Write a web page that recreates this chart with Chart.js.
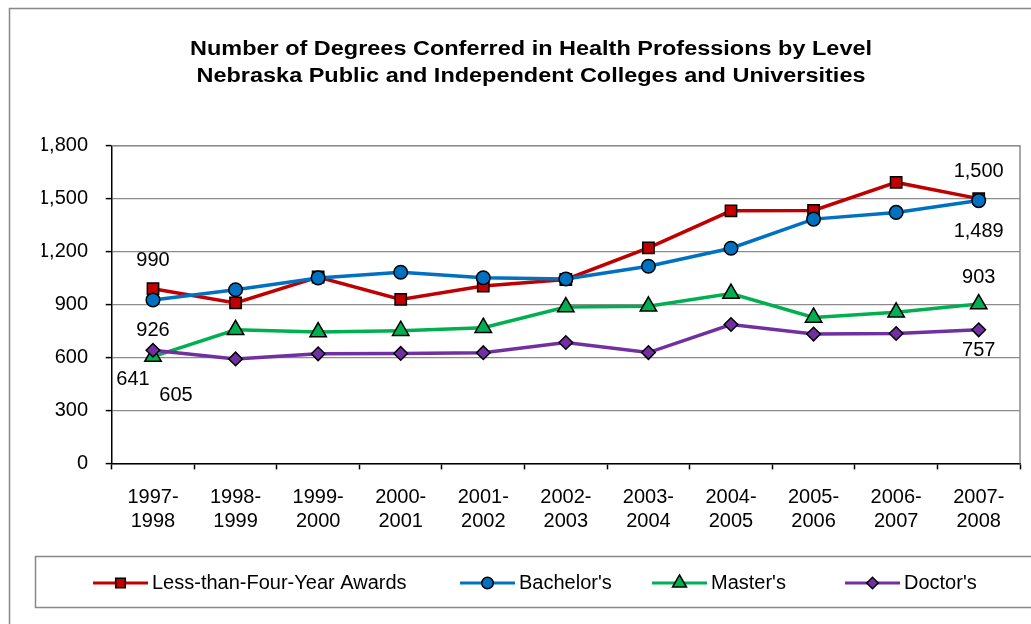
<!DOCTYPE html>
<html>
<head>
<meta charset="utf-8">
<title>Degrees Conferred in Health Professions</title>
<script src="https://cdn.jsdelivr.net/npm/chart.js@4.4.0/dist/chart.umd.min.js"></script>
<style>
    html, body { margin: 0; padding: 0; background: #fff; }
    #wrap { width: 1031px; height: 624px; position: relative; }
</style>
</head>
<body>
<div id="wrap"><canvas id="degreesChart" width="1031" height="624"></canvas></div>
<script>
// Data
var categories = ['1997-1998', '1998-1999', '1999-2000', '2000-2001', '2001-2002', '2002-2003',
                  '2003-2004', '2004-2005', '2005-2006', '2006-2007', '2007-2008'];
var lessThanFourYear = [990, 909, 1056, 929, 1005, 1042, 1221, 1431, 1433, 1592, 1500];
var bachelors = [926, 984, 1051, 1083, 1052, 1045, 1117, 1219, 1384, 1422, 1489];
var masters = [605, 757, 744, 752, 769, 886, 890, 962, 827, 856, 903];
var doctors = [641, 592, 621, 623, 627, 685, 628, 787, 733, 736, 757];
var seriesNames = ['Less-than-Four-Year Awards', "Bachelor's", "Master's", "Doctor's"];
var yTickValues = [0, 300, 600, 900, 1200, 1500, 1800];
var titleLines = ['Number of Degrees Conferred in Health Professions by Level',
                  'Nebraska Public and Independent Colleges and Universities'];

var FONT = '"Liberation Sans", Arial, sans-serif';
var gridGray = '#8c8c8c';

// split "1997-1998" into two lines like the original
var xLabels = categories.map(function (c) {
    var parts = c.split('-');
    return [parts[0] + '-', parts[1]];
});

function fmt(v) {
    return v.toLocaleString('en-US');
}

// label offsets for first and last points of each series
var endLabelOffsets = [
    { first: [0, -28], last: [0, -27] },
    { first: [0, 31], last: [0, 31] },
    { first: [23, 39], last: [0, -27] },
    { first: [-20, 29], last: [0, 21] }
];

// where each legend entry starts
var legendX = [93, 460, 652, 845];

var framePlugin = {
    id: 'frame',
    beforeDraw: function (chart) {
        var ctx = chart.ctx;
        ctx.save();
        ctx.fillStyle = '#fff';
        ctx.fillRect(0, 0, chart.width, chart.height);
        ctx.strokeStyle = '#888';
        ctx.lineWidth = 1.5;
        ctx.strokeRect(9.5, 8.5, chart.width + 20, chart.height + 20);
        ctx.restore();
    },
    afterDraw: function (chart) {
        var ctx = chart.ctx;
        var area = chart.chartArea;
        ctx.save();
        // right and top border of the plot area
        ctx.strokeStyle = gridGray;
        ctx.lineWidth = 1.5;
        ctx.beginPath();
        ctx.moveTo(area.left, area.top);
        ctx.lineTo(area.right, area.top);
        ctx.lineTo(area.right, area.bottom);
        ctx.stroke();

        // title, a bit wide like the original
        ctx.fillStyle = '#000';
        ctx.font = 'bold 20px ' + FONT;
        ctx.textAlign = 'center';
        ctx.textBaseline = 'middle';
        var sx = 682 / ctx.measureText(titleLines[0]).width;
        titleLines.forEach(function (line, i) {
            ctx.save();
            ctx.translate(531, 49 + i * 27);
            ctx.scale(sx, 1);
            ctx.fillText(line, 0, 0);
            ctx.restore();
        });

        // end labels
        ctx.font = '20px ' + FONT;
        chart.data.datasets.forEach(function (ds, i) {
            var pts = chart.getDatasetMeta(i).data;
            var off = endLabelOffsets[i];
            var p0 = pts[0], pn = pts[pts.length - 1];
            ctx.fillText(fmt(ds.data[0]), p0.x + off.first[0], p0.y + off.first[1]);
            ctx.fillText(fmt(ds.data[ds.data.length - 1]), pn.x + off.last[0], pn.y + off.last[1]);
        });

        // legend box
        ctx.strokeStyle = '#888';
        ctx.lineWidth = 1.5;
        ctx.strokeRect(35.5, 556.5, chart.width + 20, 51);
        var ly = 583;
        chart.data.datasets.forEach(function (ds, i) {
            var x = legendX[i];
            ctx.strokeStyle = ds.borderColor;
            ctx.lineWidth = 3;
            ctx.beginPath();
            ctx.moveTo(x, ly);
            ctx.lineTo(x + 55, ly);
            ctx.stroke();
            ctx.fillStyle = ds.pointBackgroundColor;
            ctx.strokeStyle = '#000';
            ctx.lineWidth = 1.5;
            Chart.helpers.drawPoint(ctx, {
                pointStyle: ds.pointStyle,
                radius: ds.pointRadius * 0.85,
                borderWidth: 1.5,
                rotation: 0
            }, x + 27.5, ly);
            ctx.fillStyle = '#000';
            ctx.textAlign = 'left';
            ctx.fillText(seriesNames[i], x + 59, ly);
        });
        ctx.restore();
    }
};

function series(label, data, color, style, radius, order) {
    return {
        label: label,
        data: data,
        borderColor: color,
        backgroundColor: color,
        borderWidth: 3.5,
        pointStyle: style,
        pointRadius: radius,
        pointHoverRadius: radius,
        pointBackgroundColor: color,
        pointBorderColor: '#000',
        pointBorderWidth: 1.5,
        tension: 0,
        order: order
    };
}

var ctx = document.getElementById('degreesChart').getContext('2d');
var degreesChart = new Chart(ctx, {
    type: 'line',
    data: {
        labels: xLabels,
        datasets: [
            series(seriesNames[0], lessThanFourYear, '#C00000', 'rect', 8, 4),
            series(seriesNames[1], bachelors, '#0070C0', 'circle', 6.8, 3),
            series(seriesNames[2], masters, '#00B050', 'triangle', 9.5, 2),
            series(seriesNames[3], doctors, '#7030A0', 'rectRot', 6.8, 1)
        ]
    },
    options: {
        responsive: false,
        animation: false,
        layout: { padding: { left: 41.7, right: 10.3, top: 145.7, bottom: 74.6 } },
        plugins: {
            legend: { display: false },
            tooltip: { enabled: false },
            title: { display: false }
        },
        scales: {
            x: {
                offset: true,
                grid: {
                    offset: true,
                    drawOnChartArea: false,
                    drawTicks: true,
                    tickLength: 6,
                    tickColor: '#000',
                    tickWidth: 1.5
                },
                border: { color: '#000', width: 1.5 },
                ticks: {
                    color: '#000',
                    padding: 16,
                    maxRotation: 0,
                    autoSkip: false,
                    font: { family: FONT, size: 20, lineHeight: 1.2 }
                }
            },
            y: {
                min: 0,
                max: 1800,
                afterFit: function (scale) { scale.width = 70; },
                afterBuildTicks: function (scale) {
                    scale.ticks = yTickValues.map(function (v) { return { value: v }; });
                },
                grid: {
                    color: gridGray,
                    lineWidth: 1.2,
                    tickLength: 6,
                    tickColor: '#000',
                    tickWidth: 1.5
                },
                border: { color: '#000', width: 1.5 },
                ticks: {
                    color: '#000',
                    padding: 17.7,
                    font: { family: FONT, size: 20 },
                    callback: function (v) { return fmt(v); }
                }
            }
        }
    },
    plugins: [framePlugin]
});
</script>
</body>
</html>
